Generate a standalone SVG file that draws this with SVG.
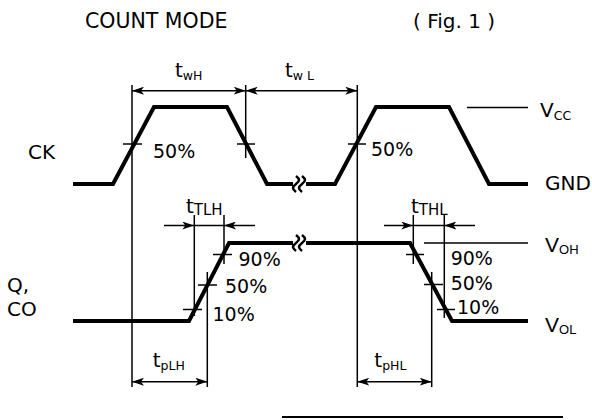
<svg xmlns="http://www.w3.org/2000/svg" width="592" height="420" viewBox="0 0 592 420">
<style>
text{font-family:"DejaVu Sans",sans-serif;fill:#000}
.lbl{font-size:20px}
.pct{font-size:19px}
.t{font-size:20px}
.sub{font-size:12.5px}
.arial{font-family:"Liberation Sans",Arial,sans-serif}
.wave{fill:none;stroke:#000;stroke-width:4;stroke-linejoin:miter}
.thin{fill:none;stroke:#000;stroke-width:1.5}
.sq{fill:none;stroke:#000;stroke-width:2.5}
.dim{fill:none;stroke:#000;stroke-width:1.5;marker-start:url(#ah);marker-end:url(#ah)}
.dimin{fill:none;stroke:#000;stroke-width:1.5}
</style>
<defs>
<marker id="ah" viewBox="0 0 12 8" refX="12" refY="4" markerWidth="12" markerHeight="8" markerUnits="userSpaceOnUse" orient="auto-start-reverse">
<path d="M0,0 L12,4 L0,8 L3,4 Z" fill="#000"/>
</marker>
<marker id="ahe" viewBox="0 0 12 8" refX="12" refY="4" markerWidth="12" markerHeight="8" markerUnits="userSpaceOnUse" orient="auto">
<path d="M0,0 L12,4 L0,8 L3,4 Z" fill="#000"/>
</marker>
</defs>

<g id="titles">
<text x="85" y="28" style="font-size:20.5px">COUNT MODE</text>
<text x="413" y="28" style="font-size:20px">( Fig. 1 )</text>
</g>

<g id="signal-labels">
<text class="lbl" x="28" y="159">CK</text>
<text class="lbl" x="7" y="292">Q,</text>
<text class="lbl" x="7" y="316">CO</text>
</g>

<g id="level-labels">
<text class="lbl" x="540" y="117">V<tspan class="sub" dy="3">CC</tspan></text>
<text class="lbl" x="545" y="190">GND</text>
<text class="arial" style="font-size:21px" x="545" y="252">V<tspan style="font-size:13px" dy="2">OH</tspan></text>
<text class="arial" style="font-size:21px" x="545" y="332">V<tspan style="font-size:13px" dy="2">OL</tspan></text>
</g>

<g id="ck-wave">
<path class="wave" d="M73,184 H113 L154,107 H227 L267,184 H293"/>
<path class="wave" d="M306,184 H335 L376,107 H449 L489,184 H528"/>
<path class="sq" d="M296,176 c4,3 4,5 0,8 c-4,3 -4,5 0,8 M302,176 c4,3 4,5 0,8 c-4,3 -4,5 0,8"/>
<line class="thin" x1="467" y1="107.5" x2="528" y2="107.5"/>
</g>

<g id="q-wave">
<path class="wave" d="M73,321 H189 L229,243 H293"/>
<path class="wave" d="M306,243 H410 L452,321 H528"/>
<path class="sq" d="M296,235 c4,3 4,5 0,8 c-4,3 -4,5 0,8 M302,235 c4,3 4,5 0,8 c-4,3 -4,5 0,8"/>
<line class="thin" x1="424" y1="243" x2="528" y2="243"/>
</g>

<g id="ticks" stroke="#000" stroke-width="1.5" fill="none">
<line x1="123" y1="144" x2="142" y2="144"/>
<line x1="237" y1="144" x2="255" y2="144"/>
<line x1="348" y1="144" x2="366" y2="144"/>
<line x1="213" y1="254.5" x2="232" y2="254.5"/>
<line x1="198" y1="285" x2="217" y2="285"/>
<line x1="183" y1="309.5" x2="202" y2="309.5"/>
<line x1="406" y1="254.5" x2="424" y2="254.5"/>
<line x1="424" y1="284.5" x2="443" y2="284.5"/>
<line x1="437" y1="309.5" x2="455" y2="309.5"/>
</g>

<g id="connectors">
<line class="thin" x1="132" y1="85" x2="132" y2="387"/>
<line class="thin" x1="245.7" y1="85" x2="245.7" y2="158"/>
<line class="thin" x1="357.3" y1="85" x2="357.3" y2="387"/>
<line class="thin" x1="194.3" y1="215" x2="194.3" y2="316"/>
<line class="thin" x1="224" y1="215" x2="224" y2="264"/>
<line class="thin" x1="207.3" y1="272" x2="207.3" y2="387"/>
<line class="thin" x1="413.3" y1="215" x2="413.3" y2="264"/>
<line class="thin" x1="444.3" y1="215" x2="444.3" y2="318"/>
<line class="thin" x1="431.7" y1="272" x2="431.7" y2="387"/>
<line class="dim" x1="132" y1="90.7" x2="245.7" y2="90.7"/>
<line class="dim" x1="245.7" y1="90.7" x2="357.3" y2="90.7"/>
<line class="dim" x1="132" y1="381.7" x2="207.3" y2="381.7"/>
<line class="dim" x1="357.3" y1="381.7" x2="431.7" y2="381.7"/>
<line class="dimin" x1="194.3" y1="225.5" x2="224" y2="225.5"/>
<line class="dimin" x1="164" y1="225.5" x2="194.3" y2="225.5" marker-end="url(#ahe)"/>
<line class="dimin" x1="255" y1="225.5" x2="224" y2="225.5" marker-end="url(#ahe)"/>
<line class="dimin" x1="413.3" y1="225.5" x2="444.3" y2="225.5"/>
<line class="dimin" x1="384" y1="225.5" x2="413.3" y2="225.5" marker-end="url(#ahe)"/>
<line class="dimin" x1="475" y1="225.5" x2="444.3" y2="225.5" marker-end="url(#ahe)"/>
<line x1="282" y1="417" x2="563" y2="417" stroke="#000" stroke-width="2"/>
</g>

<g id="timing-labels">
<text class="t" x="175" y="77">t<tspan class="sub" dy="3">wH</tspan></text>
<text class="t" x="285" y="77" xml:space="preserve">t<tspan class="sub" dy="3">w L</tspan></text>
<text class="t" x="186" y="213">t<tspan style="font-size:15px" dy="2">TLH</tspan></text>
<text class="t" x="411" y="213">t<tspan style="font-size:15px" dy="2">THL</tspan></text>
<text class="t" x="152.7" y="366.7">t<tspan class="sub" dy="3">pLH</tspan></text>
<text class="t" x="374.3" y="366.7">t<tspan class="sub" dy="3">pHL</tspan></text>
</g>

<g id="percent-labels">
<text class="pct" x="153" y="157.5">50%</text>
<text class="pct" x="371" y="155.5">50%</text>
<text class="pct" x="238.5" y="266">90%</text>
<text class="pct" x="225" y="293">50%</text>
<text class="pct" x="212.5" y="320.5">10%</text>
<text class="pct" x="450.7" y="265">90%</text>
<text class="pct" x="450.7" y="290">50%</text>
<text class="pct" x="457" y="314">10%</text>
</g>
</svg>
